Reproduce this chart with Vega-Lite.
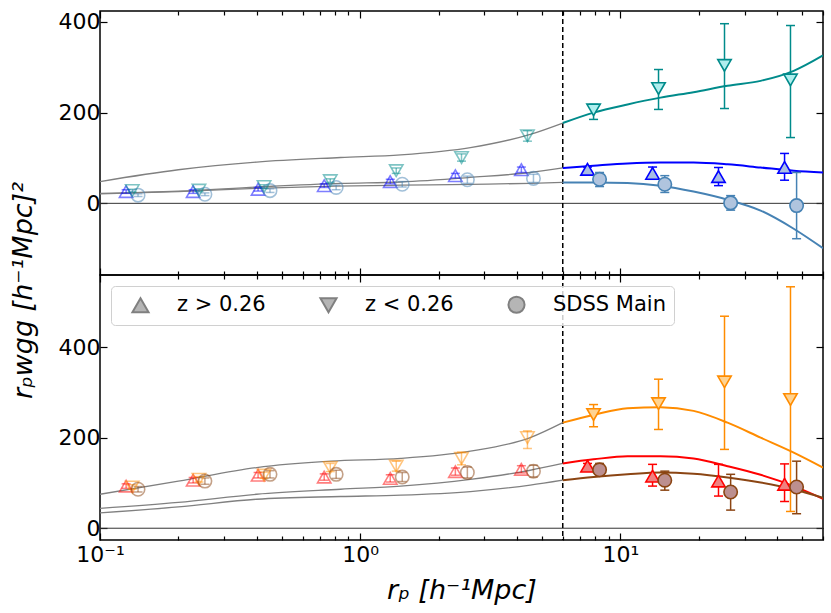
{
  "$schema": "https://vega.github.io/schema/vega-lite/v6.json",
  "padding": {"left": 8, "top": 9, "right": 6, "bottom": 5},
  "spacing": 0,
  "bounds": "flush",
  "config": {
    "font": "DejaVu Sans",
    "view": {"stroke": "black", "strokeWidth": 1.5},
    "axis": {"domain": false, "grid": false, "tickColor": "black", "tickWidth": 1.2, "labelFont": "DejaVu Sans", "labelFontSize": 22, "labelColor": "black", "titleColor": "black", "titleFont": "DejaVu Sans", "titleFontWeight": "normal"}
  },
  "datasets": {
    "refs": [
      {"what": "split", "r": 6, "y": 0}
    ],
    "pts": [
      {"panel": "top", "sample": "z > 0.26", "regime": "small", "r": 0.126, "y": 26, "lo": 22, "hi": 30},
      {"panel": "top", "sample": "z > 0.26", "regime": "small", "r": 0.228, "y": 26, "lo": 22, "hi": 30},
      {"panel": "top", "sample": "z > 0.26", "regime": "small", "r": 0.405, "y": 31, "lo": 27, "hi": 35},
      {"panel": "top", "sample": "z > 0.26", "regime": "small", "r": 0.727, "y": 39, "lo": 35, "hi": 43},
      {"panel": "top", "sample": "z > 0.26", "regime": "small", "r": 1.304, "y": 48, "lo": 43, "hi": 53},
      {"panel": "top", "sample": "z > 0.26", "regime": "small", "r": 2.32, "y": 61, "lo": 56, "hi": 66},
      {"panel": "top", "sample": "z > 0.26", "regime": "small", "r": 4.16, "y": 74, "lo": 68, "hi": 80},
      {"panel": "top", "sample": "z > 0.26", "regime": "large", "r": 7.47, "y": 75, "lo": 70, "hi": 80},
      {"panel": "top", "sample": "z > 0.26", "regime": "large", "r": 13.28, "y": 66, "lo": 53, "hi": 80},
      {"panel": "top", "sample": "z > 0.26", "regime": "large", "r": 23.8, "y": 59, "lo": 39, "hi": 79},
      {"panel": "top", "sample": "z > 0.26", "regime": "large", "r": 42.7, "y": 79, "lo": 51, "hi": 110},
      {"panel": "top", "sample": "z < 0.26", "regime": "small", "r": 0.133, "y": 28, "lo": 25, "hi": 31},
      {"panel": "top", "sample": "z < 0.26", "regime": "small", "r": 0.24, "y": 29, "lo": 26, "hi": 32},
      {"panel": "top", "sample": "z < 0.26", "regime": "small", "r": 0.427, "y": 37, "lo": 33, "hi": 41},
      {"panel": "top", "sample": "z < 0.26", "regime": "small", "r": 0.767, "y": 50, "lo": 46, "hi": 54},
      {"panel": "top", "sample": "z < 0.26", "regime": "small", "r": 1.375, "y": 72, "lo": 66, "hi": 78},
      {"panel": "top", "sample": "z < 0.26", "regime": "small", "r": 2.45, "y": 101, "lo": 93, "hi": 109},
      {"panel": "top", "sample": "z < 0.26", "regime": "small", "r": 4.39, "y": 149, "lo": 137, "hi": 160},
      {"panel": "top", "sample": "z < 0.26", "regime": "large", "r": 7.88, "y": 206, "lo": 185, "hi": 218},
      {"panel": "top", "sample": "z < 0.26", "regime": "large", "r": 14.0, "y": 253, "lo": 207, "hi": 295},
      {"panel": "top", "sample": "z < 0.26", "regime": "large", "r": 25.1, "y": 304, "lo": 209, "hi": 396},
      {"panel": "top", "sample": "z < 0.26", "regime": "large", "r": 45.0, "y": 272, "lo": 145, "hi": 392},
      {"panel": "top", "sample": "SDSS Main", "regime": "small", "r": 0.14, "y": 18, "lo": 15, "hi": 21},
      {"panel": "top", "sample": "SDSS Main", "regime": "small", "r": 0.253, "y": 20, "lo": 17, "hi": 23},
      {"panel": "top", "sample": "SDSS Main", "regime": "small", "r": 0.45, "y": 28, "lo": 24, "hi": 32},
      {"panel": "top", "sample": "SDSS Main", "regime": "small", "r": 0.808, "y": 35, "lo": 30, "hi": 40},
      {"panel": "top", "sample": "SDSS Main", "regime": "small", "r": 1.45, "y": 42, "lo": 36, "hi": 48},
      {"panel": "top", "sample": "SDSS Main", "regime": "small", "r": 2.58, "y": 52, "lo": 44, "hi": 60},
      {"panel": "top", "sample": "SDSS Main", "regime": "small", "r": 4.63, "y": 55, "lo": 46, "hi": 64},
      {"panel": "top", "sample": "SDSS Main", "regime": "large", "r": 8.31, "y": 53, "lo": 37, "hi": 68},
      {"panel": "top", "sample": "SDSS Main", "regime": "large", "r": 14.8, "y": 42, "lo": 24, "hi": 61},
      {"panel": "top", "sample": "SDSS Main", "regime": "large", "r": 26.5, "y": 1, "lo": -15, "hi": 17},
      {"panel": "top", "sample": "SDSS Main", "regime": "large", "r": 47.5, "y": -5, "lo": -78, "hi": 68},
      {"panel": "bottom", "sample": "z > 0.26", "regime": "small", "r": 0.126, "y": 93, "lo": 88, "hi": 98},
      {"panel": "bottom", "sample": "z > 0.26", "regime": "small", "r": 0.228, "y": 106, "lo": 100, "hi": 112},
      {"panel": "bottom", "sample": "z > 0.26", "regime": "small", "r": 0.405, "y": 117, "lo": 111, "hi": 123},
      {"panel": "bottom", "sample": "z > 0.26", "regime": "small", "r": 0.727, "y": 113, "lo": 106, "hi": 120},
      {"panel": "bottom", "sample": "z > 0.26", "regime": "small", "r": 1.304, "y": 110, "lo": 102, "hi": 118},
      {"panel": "bottom", "sample": "z > 0.26", "regime": "small", "r": 2.32, "y": 125, "lo": 117, "hi": 133},
      {"panel": "bottom", "sample": "z > 0.26", "regime": "small", "r": 4.16, "y": 130, "lo": 122, "hi": 138},
      {"panel": "bottom", "sample": "z > 0.26", "regime": "large", "r": 7.47, "y": 137, "lo": 131, "hi": 143},
      {"panel": "bottom", "sample": "z > 0.26", "regime": "large", "r": 13.28, "y": 115, "lo": 93, "hi": 141},
      {"panel": "bottom", "sample": "z > 0.26", "regime": "large", "r": 23.8, "y": 104, "lo": 71, "hi": 141},
      {"panel": "bottom", "sample": "z > 0.26", "regime": "large", "r": 42.7, "y": 97, "lo": 59, "hi": 142},
      {"panel": "bottom", "sample": "z < 0.26", "regime": "small", "r": 0.133, "y": 91, "lo": 86, "hi": 96},
      {"panel": "bottom", "sample": "z < 0.26", "regime": "small", "r": 0.24, "y": 108, "lo": 102, "hi": 114},
      {"panel": "bottom", "sample": "z < 0.26", "regime": "small", "r": 0.427, "y": 117, "lo": 110, "hi": 124},
      {"panel": "bottom", "sample": "z < 0.26", "regime": "small", "r": 0.767, "y": 134, "lo": 125, "hi": 143},
      {"panel": "bottom", "sample": "z < 0.26", "regime": "small", "r": 1.375, "y": 137, "lo": 126, "hi": 148},
      {"panel": "bottom", "sample": "z < 0.26", "regime": "small", "r": 2.45, "y": 154, "lo": 140, "hi": 168},
      {"panel": "bottom", "sample": "z < 0.26", "regime": "small", "r": 4.39, "y": 200, "lo": 176, "hi": 215},
      {"panel": "bottom", "sample": "z < 0.26", "regime": "large", "r": 7.88, "y": 251, "lo": 224, "hi": 273},
      {"panel": "bottom", "sample": "z < 0.26", "regime": "large", "r": 14.0, "y": 275, "lo": 218, "hi": 329},
      {"panel": "bottom", "sample": "z < 0.26", "regime": "large", "r": 25.1, "y": 323, "lo": 174, "hi": 468},
      {"panel": "bottom", "sample": "z < 0.26", "regime": "large", "r": 45.0, "y": 284, "lo": 37, "hi": 533},
      {"panel": "bottom", "sample": "SDSS Main", "regime": "small", "r": 0.14, "y": 86, "lo": 80, "hi": 92},
      {"panel": "bottom", "sample": "SDSS Main", "regime": "small", "r": 0.253, "y": 104, "lo": 97, "hi": 111},
      {"panel": "bottom", "sample": "SDSS Main", "regime": "small", "r": 0.45, "y": 119, "lo": 111, "hi": 127},
      {"panel": "bottom", "sample": "SDSS Main", "regime": "small", "r": 0.808, "y": 119, "lo": 110, "hi": 128},
      {"panel": "bottom", "sample": "SDSS Main", "regime": "small", "r": 1.45, "y": 113, "lo": 103, "hi": 123},
      {"panel": "bottom", "sample": "SDSS Main", "regime": "small", "r": 2.58, "y": 123, "lo": 111, "hi": 135},
      {"panel": "bottom", "sample": "SDSS Main", "regime": "small", "r": 4.63, "y": 126, "lo": 113, "hi": 139},
      {"panel": "bottom", "sample": "SDSS Main", "regime": "large", "r": 8.31, "y": 129, "lo": 115, "hi": 143},
      {"panel": "bottom", "sample": "SDSS Main", "regime": "large", "r": 14.8, "y": 106, "lo": 84, "hi": 126},
      {"panel": "bottom", "sample": "SDSS Main", "regime": "large", "r": 26.5, "y": 80, "lo": 40, "hi": 119},
      {"panel": "bottom", "sample": "SDSS Main", "regime": "large", "r": 47.5, "y": 91, "lo": 32, "hi": 148}
    ],
    "model": [
      {"panel": "top", "sample": "z < 0.26", "part": "inner", "r": 0.1, "y": 48},
      {"panel": "top", "sample": "z < 0.26", "part": "inner", "r": 0.2, "y": 74},
      {"panel": "top", "sample": "z < 0.26", "part": "inner", "r": 0.4, "y": 91},
      {"panel": "top", "sample": "z < 0.26", "part": "inner", "r": 0.84, "y": 101},
      {"panel": "top", "sample": "z < 0.26", "part": "inner", "r": 1.43, "y": 107},
      {"panel": "top", "sample": "z < 0.26", "part": "inner", "r": 2.65, "y": 123},
      {"panel": "top", "sample": "z < 0.26", "part": "inner", "r": 4.5, "y": 152},
      {"panel": "top", "sample": "z < 0.26", "part": "inner", "r": 6.0, "y": 177},
      {"panel": "top", "sample": "z < 0.26", "part": "outer", "r": 6.0, "y": 177},
      {"panel": "top", "sample": "z < 0.26", "part": "outer", "r": 7.88, "y": 200},
      {"panel": "top", "sample": "z < 0.26", "part": "outer", "r": 10.64, "y": 218},
      {"panel": "top", "sample": "z < 0.26", "part": "outer", "r": 14.25, "y": 233},
      {"panel": "top", "sample": "z < 0.26", "part": "outer", "r": 19.09, "y": 245},
      {"panel": "top", "sample": "z < 0.26", "part": "outer", "r": 25.79, "y": 259},
      {"panel": "top", "sample": "z < 0.26", "part": "outer", "r": 34.55, "y": 270},
      {"panel": "top", "sample": "z < 0.26", "part": "outer", "r": 46.3, "y": 292},
      {"panel": "top", "sample": "z < 0.26", "part": "outer", "r": 60.0, "y": 326},
      {"panel": "top", "sample": "z > 0.26", "part": "inner", "r": 0.1, "y": 22},
      {"panel": "top", "sample": "z > 0.26", "part": "inner", "r": 0.2, "y": 27},
      {"panel": "top", "sample": "z > 0.26", "part": "inner", "r": 0.4, "y": 36},
      {"panel": "top", "sample": "z > 0.26", "part": "inner", "r": 0.84, "y": 44},
      {"panel": "top", "sample": "z > 0.26", "part": "inner", "r": 1.43, "y": 47},
      {"panel": "top", "sample": "z > 0.26", "part": "inner", "r": 2.65, "y": 57},
      {"panel": "top", "sample": "z > 0.26", "part": "inner", "r": 4.5, "y": 68},
      {"panel": "top", "sample": "z > 0.26", "part": "inner", "r": 6.0, "y": 78},
      {"panel": "top", "sample": "z > 0.26", "part": "outer", "r": 6.0, "y": 78},
      {"panel": "top", "sample": "z > 0.26", "part": "outer", "r": 7.88, "y": 83},
      {"panel": "top", "sample": "z > 0.26", "part": "outer", "r": 10.64, "y": 88},
      {"panel": "top", "sample": "z > 0.26", "part": "outer", "r": 14.25, "y": 90},
      {"panel": "top", "sample": "z > 0.26", "part": "outer", "r": 19.09, "y": 90},
      {"panel": "top", "sample": "z > 0.26", "part": "outer", "r": 25.79, "y": 86},
      {"panel": "top", "sample": "z > 0.26", "part": "outer", "r": 34.55, "y": 79},
      {"panel": "top", "sample": "z > 0.26", "part": "outer", "r": 46.3, "y": 72},
      {"panel": "top", "sample": "z > 0.26", "part": "outer", "r": 60.0, "y": 68},
      {"panel": "top", "sample": "SDSS Main", "part": "inner", "r": 0.1, "y": 21},
      {"panel": "top", "sample": "SDSS Main", "part": "inner", "r": 0.2, "y": 26},
      {"panel": "top", "sample": "SDSS Main", "part": "inner", "r": 0.4, "y": 33},
      {"panel": "top", "sample": "SDSS Main", "part": "inner", "r": 0.8, "y": 38},
      {"panel": "top", "sample": "SDSS Main", "part": "inner", "r": 1.43, "y": 40},
      {"panel": "top", "sample": "SDSS Main", "part": "inner", "r": 2.65, "y": 42},
      {"panel": "top", "sample": "SDSS Main", "part": "inner", "r": 4.5, "y": 44},
      {"panel": "top", "sample": "SDSS Main", "part": "inner", "r": 6.0, "y": 46},
      {"panel": "top", "sample": "SDSS Main", "part": "outer", "r": 6.0, "y": 46},
      {"panel": "top", "sample": "SDSS Main", "part": "outer", "r": 7.88, "y": 46},
      {"panel": "top", "sample": "SDSS Main", "part": "outer", "r": 10.64, "y": 45},
      {"panel": "top", "sample": "SDSS Main", "part": "outer", "r": 14.25, "y": 39},
      {"panel": "top", "sample": "SDSS Main", "part": "outer", "r": 19.09, "y": 26},
      {"panel": "top", "sample": "SDSS Main", "part": "outer", "r": 25.79, "y": 8},
      {"panel": "top", "sample": "SDSS Main", "part": "outer", "r": 34.55, "y": -16},
      {"panel": "top", "sample": "SDSS Main", "part": "outer", "r": 46.3, "y": -56},
      {"panel": "top", "sample": "SDSS Main", "part": "outer", "r": 60.0, "y": -99},
      {"panel": "bottom", "sample": "z < 0.26", "part": "inner", "r": 0.1, "y": 75},
      {"panel": "bottom", "sample": "z < 0.26", "part": "inner", "r": 0.2, "y": 104},
      {"panel": "bottom", "sample": "z < 0.26", "part": "inner", "r": 0.4, "y": 134},
      {"panel": "bottom", "sample": "z < 0.26", "part": "inner", "r": 0.77, "y": 148},
      {"panel": "bottom", "sample": "z < 0.26", "part": "inner", "r": 1.43, "y": 154},
      {"panel": "bottom", "sample": "z < 0.26", "part": "inner", "r": 2.65, "y": 170},
      {"panel": "bottom", "sample": "z < 0.26", "part": "inner", "r": 4.5, "y": 200},
      {"panel": "bottom", "sample": "z < 0.26", "part": "inner", "r": 6.0, "y": 233},
      {"panel": "bottom", "sample": "z < 0.26", "part": "outer", "r": 6.0, "y": 233},
      {"panel": "bottom", "sample": "z < 0.26", "part": "outer", "r": 7.88, "y": 250},
      {"panel": "bottom", "sample": "z < 0.26", "part": "outer", "r": 10.64, "y": 265},
      {"panel": "bottom", "sample": "z < 0.26", "part": "outer", "r": 14.25, "y": 267},
      {"panel": "bottom", "sample": "z < 0.26", "part": "outer", "r": 19.09, "y": 259},
      {"panel": "bottom", "sample": "z < 0.26", "part": "outer", "r": 25.79, "y": 233},
      {"panel": "bottom", "sample": "z < 0.26", "part": "outer", "r": 34.55, "y": 200},
      {"panel": "bottom", "sample": "z < 0.26", "part": "outer", "r": 46.3, "y": 167},
      {"panel": "bottom", "sample": "z < 0.26", "part": "outer", "r": 60.0, "y": 134},
      {"panel": "bottom", "sample": "z > 0.26", "part": "inner", "r": 0.1, "y": 44},
      {"panel": "bottom", "sample": "z > 0.26", "part": "inner", "r": 0.2, "y": 57},
      {"panel": "bottom", "sample": "z > 0.26", "part": "inner", "r": 0.4, "y": 75},
      {"panel": "bottom", "sample": "z > 0.26", "part": "inner", "r": 0.84, "y": 86},
      {"panel": "bottom", "sample": "z > 0.26", "part": "inner", "r": 1.43, "y": 93},
      {"panel": "bottom", "sample": "z > 0.26", "part": "inner", "r": 2.65, "y": 108},
      {"panel": "bottom", "sample": "z > 0.26", "part": "inner", "r": 4.5, "y": 128},
      {"panel": "bottom", "sample": "z > 0.26", "part": "inner", "r": 6.0, "y": 143},
      {"panel": "bottom", "sample": "z > 0.26", "part": "outer", "r": 6.0, "y": 143},
      {"panel": "bottom", "sample": "z > 0.26", "part": "outer", "r": 7.88, "y": 152},
      {"panel": "bottom", "sample": "z > 0.26", "part": "outer", "r": 10.64, "y": 159},
      {"panel": "bottom", "sample": "z > 0.26", "part": "outer", "r": 14.25, "y": 159},
      {"panel": "bottom", "sample": "z > 0.26", "part": "outer", "r": 19.09, "y": 154},
      {"panel": "bottom", "sample": "z > 0.26", "part": "outer", "r": 25.79, "y": 137},
      {"panel": "bottom", "sample": "z > 0.26", "part": "outer", "r": 34.55, "y": 118},
      {"panel": "bottom", "sample": "z > 0.26", "part": "outer", "r": 46.3, "y": 93},
      {"panel": "bottom", "sample": "z > 0.26", "part": "outer", "r": 60.0, "y": 65},
      {"panel": "bottom", "sample": "SDSS Main", "part": "inner", "r": 0.1, "y": 34},
      {"panel": "bottom", "sample": "SDSS Main", "part": "inner", "r": 0.2, "y": 47},
      {"panel": "bottom", "sample": "SDSS Main", "part": "inner", "r": 0.4, "y": 64},
      {"panel": "bottom", "sample": "SDSS Main", "part": "inner", "r": 0.84, "y": 70},
      {"panel": "bottom", "sample": "SDSS Main", "part": "inner", "r": 1.43, "y": 73},
      {"panel": "bottom", "sample": "SDSS Main", "part": "inner", "r": 2.65, "y": 81},
      {"panel": "bottom", "sample": "SDSS Main", "part": "inner", "r": 4.5, "y": 95},
      {"panel": "bottom", "sample": "SDSS Main", "part": "inner", "r": 6.0, "y": 106},
      {"panel": "bottom", "sample": "SDSS Main", "part": "outer", "r": 6.0, "y": 106},
      {"panel": "bottom", "sample": "SDSS Main", "part": "outer", "r": 7.88, "y": 113},
      {"panel": "bottom", "sample": "SDSS Main", "part": "outer", "r": 10.64, "y": 119},
      {"panel": "bottom", "sample": "SDSS Main", "part": "outer", "r": 14.25, "y": 123},
      {"panel": "bottom", "sample": "SDSS Main", "part": "outer", "r": 19.09, "y": 120},
      {"panel": "bottom", "sample": "SDSS Main", "part": "outer", "r": 25.79, "y": 112},
      {"panel": "bottom", "sample": "SDSS Main", "part": "outer", "r": 34.55, "y": 101},
      {"panel": "bottom", "sample": "SDSS Main", "part": "outer", "r": 46.3, "y": 86},
      {"panel": "bottom", "sample": "SDSS Main", "part": "outer", "r": 60.0, "y": 67}
    ]
  },
  "vconcat": [
    {
      "width": 723,
      "height": 264,
      "resolve": {"axis": {"x": "independent", "y": "independent"}},
      "layer": [
        {
          "data": {"name": "refs"},
          "mark": {"type": "rule", "color": "#333333", "strokeWidth": 1},
          "encoding": {
            "y": {"field": "y", "type": "quantitative", "scale": {"domain": [-158, 424], "nice": false, "zero": false}, "axis": {"orient": "right", "values": [0, 200, 400], "tickSize": -7, "labels": false, "title": null}}
          }
        },
        {
          "data": {"name": "refs"},
          "mark": {"type": "rule", "color": "black", "strokeWidth": 1.5, "strokeDash": [5, 3]},
          "encoding": {
            "x": {"field": "r", "type": "quantitative", "scale": {"type": "log", "domain": [0.1, 60], "nice": false}, "axis": {"orient": "top", "values": [0.1, 1, 10], "tickSize": -7, "labels": false, "title": null}}
          }
        },
        {
          "data": {"name": "model"},
          "transform": [{"filter": "datum.panel == 'top' && datum.part == 'inner'"}],
          "mark": {"type": "line", "color": "#808080", "strokeWidth": 1.3, "interpolate": "monotone", "clip": true},
          "encoding": {
            "x": {"field": "r", "type": "quantitative", "scale": {"type": "log", "domain": [0.1, 60], "nice": false}, "axis": {"orient": "bottom", "values": [0.2, 0.3, 0.4, 0.5, 0.6, 0.7, 0.8, 0.9, 2, 3, 4, 5, 6, 7, 8, 9, 20, 30, 40, 50, 60], "tickSize": -4, "labels": false, "title": null}},
            "y": {"field": "y", "type": "quantitative", "scale": {"domain": [-158, 424], "nice": false, "zero": false}, "axis": null},
            "detail": {"field": "sample"}
          }
        },
        {
          "data": {"name": "model"},
          "transform": [{"filter": "datum.panel == 'top' && datum.part == 'outer'"}],
          "mark": {"type": "line", "strokeWidth": 2, "interpolate": "monotone", "clip": true},
          "encoding": {
            "x": {"field": "r", "type": "quantitative", "scale": {"type": "log", "domain": [0.1, 60], "nice": false}, "axis": {"orient": "top", "values": [0.2, 0.3, 0.4, 0.5, 0.6, 0.7, 0.8, 0.9, 2, 3, 4, 5, 6, 7, 8, 9, 20, 30, 40, 50, 60], "tickSize": -4, "labels": false, "title": null}},
            "y": {"field": "y", "type": "quantitative", "scale": {"domain": [-158, 424], "nice": false, "zero": false}, "axis": null},
            "color": {"field": "sample", "type": "nominal", "scale": {"domain": ["SDSS Main", "z > 0.26", "z < 0.26"], "range": ["#4682b4", "#0000ff", "#008b8b"]}, "legend": null}
          }
        },
        {
          "data": {"name": "pts"},
          "transform": [{"filter": "datum.panel == 'top'"}],
          "mark": {"type": "rule", "strokeWidth": 1.5},
          "encoding": {
            "x": {"field": "r", "type": "quantitative", "scale": {"type": "log", "domain": [0.1, 60], "nice": false}, "axis": null},
            "y": {"field": "lo", "type": "quantitative", "scale": {"domain": [-158, 424], "nice": false, "zero": false}, "axis": null},
            "y2": {"field": "hi"},
            "color": {"field": "sample", "type": "nominal", "scale": {"domain": ["SDSS Main", "z > 0.26", "z < 0.26"], "range": ["#4682b4", "#0000ff", "#008b8b"]}, "legend": null},
            "opacity": {"field": "regime", "type": "ordinal", "scale": {"domain": ["small", "large"], "range": [0.5, 1]}, "legend": null}
          }
        },
        {
          "data": {"name": "pts"},
          "transform": [{"filter": "datum.panel == 'top'"}],
          "mark": {"type": "tick", "orient": "horizontal", "size": 9, "thickness": 1.5},
          "encoding": {
            "x": {"field": "r", "type": "quantitative", "scale": {"type": "log", "domain": [0.1, 60], "nice": false}, "axis": null},
            "y": {"field": "lo", "type": "quantitative", "scale": {"domain": [-158, 424], "nice": false, "zero": false}, "axis": null},
            "color": {"field": "sample", "type": "nominal", "scale": {"domain": ["SDSS Main", "z > 0.26", "z < 0.26"], "range": ["#4682b4", "#0000ff", "#008b8b"]}, "legend": null},
            "opacity": {"field": "regime", "type": "ordinal", "scale": {"domain": ["small", "large"], "range": [0.5, 1]}, "legend": null}
          }
        },
        {
          "data": {"name": "pts"},
          "transform": [{"filter": "datum.panel == 'top'"}],
          "mark": {"type": "tick", "orient": "horizontal", "size": 9, "thickness": 1.5},
          "encoding": {
            "x": {"field": "r", "type": "quantitative", "scale": {"type": "log", "domain": [0.1, 60], "nice": false}, "axis": null},
            "y": {"field": "hi", "type": "quantitative", "scale": {"domain": [-158, 424], "nice": false, "zero": false}, "axis": null},
            "color": {"field": "sample", "type": "nominal", "scale": {"domain": ["SDSS Main", "z > 0.26", "z < 0.26"], "range": ["#4682b4", "#0000ff", "#008b8b"]}, "legend": null},
            "opacity": {"field": "regime", "type": "ordinal", "scale": {"domain": ["small", "large"], "range": [0.5, 1]}, "legend": null}
          }
        },
        {
          "data": {"name": "pts"},
          "transform": [{"filter": "datum.panel == 'top'"}],
          "mark": {"type": "point", "size": 180, "strokeWidth": 1.6},
          "encoding": {
            "x": {"field": "r", "type": "quantitative", "scale": {"type": "log", "domain": [0.1, 60], "nice": false}, "axis": {"orient": "bottom", "values": [0.1, 1, 10], "tickSize": -7, "labels": false, "title": null}},
            "y": {"field": "y", "type": "quantitative", "scale": {"domain": [-158, 424], "nice": false, "zero": false}, "axis": {"orient": "left", "values": [0, 200, 400], "tickSize": -7, "labelPadding": 7, "title": null}},
            "shape": {"field": "sample", "type": "nominal", "scale": {"domain": ["z > 0.26", "z < 0.26", "SDSS Main"], "range": ["triangle-up", "triangle-down", "circle"]}, "legend": null},
            "stroke": {"field": "sample", "type": "nominal", "scale": {"domain": ["SDSS Main", "z > 0.26", "z < 0.26"], "range": ["#4682b4", "#0000ff", "#008b8b"]}, "legend": null},
            "fill": {"field": "sample", "type": "nominal", "scale": {"domain": ["z < 0.26", "SDSS Main", "z > 0.26"], "range": ["#afeeee", "#b0c4de", "#a9bde3"]}, "legend": null},
            "fillOpacity": {"field": "regime", "type": "ordinal", "scale": {"domain": ["small", "large"], "range": [0, 1]}, "legend": null},
            "opacity": {"field": "regime", "type": "ordinal", "scale": {"domain": ["small", "large"], "range": [0.5, 1]}, "legend": null}
          }
        }
      ]
    },
    {
      "width": 723,
      "height": 265,
      "resolve": {"axis": {"x": "independent", "y": "independent"}},
      "layer": [
        {
          "data": {"name": "refs"},
          "mark": {"type": "rule", "color": "#333333", "strokeWidth": 1},
          "encoding": {
            "y": {"field": "y", "type": "quantitative", "scale": {"domain": [-26, 559], "nice": false, "zero": false}, "axis": {"orient": "right", "values": [0, 200, 400], "tickSize": -7, "labels": false, "title": null}}
          }
        },
        {
          "data": {"name": "refs"},
          "mark": {"type": "rule", "color": "black", "strokeWidth": 1.5, "strokeDash": [5, 3]},
          "encoding": {
            "x": {"field": "r", "type": "quantitative", "scale": {"type": "log", "domain": [0.1, 60], "nice": false}, "axis": {"orient": "top", "values": [0.1, 1, 10], "tickSize": -7, "labels": false, "title": null}}
          }
        },
        {
          "data": {"name": "model"},
          "transform": [{"filter": "datum.panel == 'bottom' && datum.part == 'inner'"}],
          "mark": {"type": "line", "color": "#808080", "strokeWidth": 1.3, "interpolate": "monotone", "clip": true},
          "encoding": {
            "x": {"field": "r", "type": "quantitative", "scale": {"type": "log", "domain": [0.1, 60], "nice": false}, "axis": {"orient": "bottom", "values": [0.2, 0.3, 0.4, 0.5, 0.6, 0.7, 0.8, 0.9, 2, 3, 4, 5, 6, 7, 8, 9, 20, 30, 40, 50, 60], "tickSize": -4, "labels": false, "title": null}},
            "y": {"field": "y", "type": "quantitative", "scale": {"domain": [-26, 559], "nice": false, "zero": false}, "axis": null},
            "detail": {"field": "sample"}
          }
        },
        {
          "data": {"name": "model"},
          "transform": [{"filter": "datum.panel == 'bottom' && datum.part == 'outer'"}],
          "mark": {"type": "line", "strokeWidth": 2, "interpolate": "monotone", "clip": true},
          "encoding": {
            "x": {"field": "r", "type": "quantitative", "scale": {"type": "log", "domain": [0.1, 60], "nice": false}, "axis": {"orient": "top", "values": [0.2, 0.3, 0.4, 0.5, 0.6, 0.7, 0.8, 0.9, 2, 3, 4, 5, 6, 7, 8, 9, 20, 30, 40, 50, 60], "tickSize": -4, "labels": false, "title": null}},
            "y": {"field": "y", "type": "quantitative", "scale": {"domain": [-26, 559], "nice": false, "zero": false}, "axis": null},
            "color": {"field": "sample", "type": "nominal", "scale": {"domain": ["SDSS Main", "z > 0.26", "z < 0.26"], "range": ["#8b4513", "#ff0000", "#ff8c00"]}, "legend": null}
          }
        },
        {
          "data": {"name": "pts"},
          "transform": [{"filter": "datum.panel == 'bottom'"}],
          "mark": {"type": "rule", "strokeWidth": 1.5},
          "encoding": {
            "x": {"field": "r", "type": "quantitative", "scale": {"type": "log", "domain": [0.1, 60], "nice": false}, "axis": null},
            "y": {"field": "lo", "type": "quantitative", "scale": {"domain": [-26, 559], "nice": false, "zero": false}, "axis": null},
            "y2": {"field": "hi"},
            "color": {"field": "sample", "type": "nominal", "scale": {"domain": ["SDSS Main", "z > 0.26", "z < 0.26"], "range": ["#8b4513", "#ff0000", "#ff8c00"]}, "legend": null},
            "opacity": {"field": "regime", "type": "ordinal", "scale": {"domain": ["small", "large"], "range": [0.5, 1]}, "legend": null}
          }
        },
        {
          "data": {"name": "pts"},
          "transform": [{"filter": "datum.panel == 'bottom'"}],
          "mark": {"type": "tick", "orient": "horizontal", "size": 9, "thickness": 1.5},
          "encoding": {
            "x": {"field": "r", "type": "quantitative", "scale": {"type": "log", "domain": [0.1, 60], "nice": false}, "axis": null},
            "y": {"field": "lo", "type": "quantitative", "scale": {"domain": [-26, 559], "nice": false, "zero": false}, "axis": null},
            "color": {"field": "sample", "type": "nominal", "scale": {"domain": ["SDSS Main", "z > 0.26", "z < 0.26"], "range": ["#8b4513", "#ff0000", "#ff8c00"]}, "legend": null},
            "opacity": {"field": "regime", "type": "ordinal", "scale": {"domain": ["small", "large"], "range": [0.5, 1]}, "legend": null}
          }
        },
        {
          "data": {"name": "pts"},
          "transform": [{"filter": "datum.panel == 'bottom'"}],
          "mark": {"type": "tick", "orient": "horizontal", "size": 9, "thickness": 1.5},
          "encoding": {
            "x": {"field": "r", "type": "quantitative", "scale": {"type": "log", "domain": [0.1, 60], "nice": false}, "axis": null},
            "y": {"field": "hi", "type": "quantitative", "scale": {"domain": [-26, 559], "nice": false, "zero": false}, "axis": null},
            "color": {"field": "sample", "type": "nominal", "scale": {"domain": ["SDSS Main", "z > 0.26", "z < 0.26"], "range": ["#8b4513", "#ff0000", "#ff8c00"]}, "legend": null},
            "opacity": {"field": "regime", "type": "ordinal", "scale": {"domain": ["small", "large"], "range": [0.5, 1]}, "legend": null}
          }
        },
        {
          "data": {"name": "pts"},
          "transform": [{"filter": "datum.panel == 'bottom'"}],
          "mark": {"type": "point", "size": 180, "strokeWidth": 1.6},
          "encoding": {
            "x": {"field": "r", "type": "quantitative", "scale": {"type": "log", "domain": [0.1, 60], "nice": false}, "axis": {"orient": "bottom", "values": [0.1, 1, 10], "tickSize": -7, "labelPadding": 11, "labelFlush": false, "labelExpr": "datum.value < 0.5 ? '10⁻¹' : datum.value < 5 ? '10⁰' : '10¹'", "title": "rₚ [h⁻¹Mpc]", "titleFontSize": 27, "titleFontStyle": "italic", "titlePadding": 12}},
            "y": {"field": "y", "type": "quantitative", "scale": {"domain": [-26, 559], "nice": false, "zero": false}, "axis": {"orient": "left", "values": [0, 200, 400], "tickSize": -7, "labelPadding": 7, "title": "rₚwgg [h⁻¹Mpc]²", "titleFontSize": 27, "titleFontStyle": "italic", "titleX": -77, "titleY": 15, "titleAngle": -90, "titleAlign": "center", "titleBaseline": "middle"}},
            "shape": {"field": "sample", "type": "nominal", "scale": {"domain": ["z > 0.26", "z < 0.26", "SDSS Main"], "range": ["triangle-up", "triangle-down", "circle"]}, "legend": {"orient": "none", "legendX": 11, "legendY": 11, "direction": "horizontal", "title": null, "symbolSize": 260, "symbolFillColor": "#b5b5b5", "symbolStrokeColor": "#808080", "symbolStrokeWidth": 2, "symbolOpacity": 1, "labelFontSize": 21, "labelFont": "DejaVu Sans", "labelColor": "black", "labelOffset": 26, "columnPadding": 41, "padding": 8, "symbolOffset": 11, "fillColor": "rgba(255,255,255,0.8)", "strokeColor": "#d0d0d0", "cornerRadius": 4}},
            "stroke": {"field": "sample", "type": "nominal", "scale": {"domain": ["SDSS Main", "z > 0.26", "z < 0.26"], "range": ["#8b4513", "#ff0000", "#ff8c00"]}, "legend": null},
            "fill": {"field": "sample", "type": "nominal", "scale": {"domain": ["z < 0.26", "SDSS Main", "z > 0.26"], "range": ["#ffd391", "#bc8f8f", "#f08080"]}, "legend": null},
            "fillOpacity": {"field": "regime", "type": "ordinal", "scale": {"domain": ["small", "large"], "range": [0, 1]}, "legend": null},
            "opacity": {"field": "regime", "type": "ordinal", "scale": {"domain": ["small", "large"], "range": [0.5, 1]}, "legend": null}
          }
        }
      ]
    }
  ],
  "resolve": {
    "scale": {"color": "independent", "stroke": "independent", "fill": "independent", "shape": "independent", "opacity": "independent", "fillOpacity": "independent"},
    "legend": {"shape": "independent"}
  }
}
